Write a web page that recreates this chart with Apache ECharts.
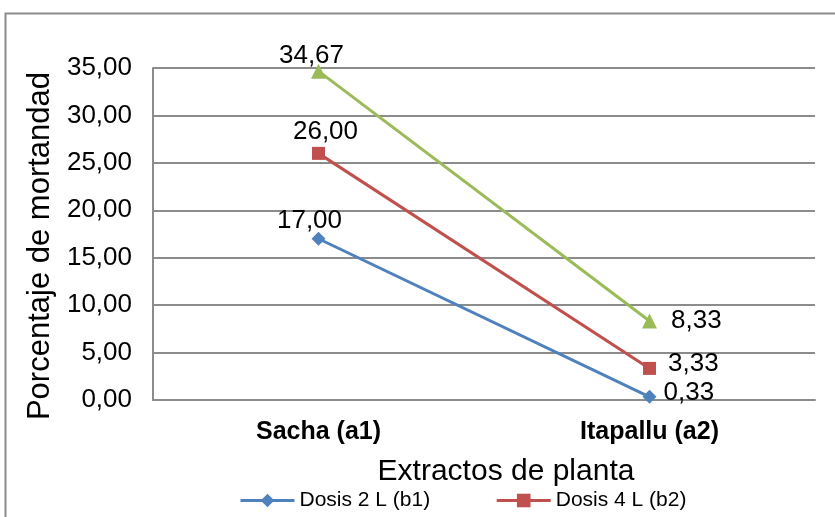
<!DOCTYPE html>
<html>
<head>
<meta charset="utf-8">
<script src="https://cdn.jsdelivr.net/npm/echarts@6/dist/echarts.min.js"></script>
<style>
html,body{margin:0;padding:0;background:#fff;}
#chart{width:835px;height:517px;}
</style>
</head>
<body>
<div id="chart"></div>
<script>
// Mortality percentage by plant extract and dose
const categories = ['Sacha (a1)', 'Itapallu (a2)'];
const dose2L = [17.00, 0.33];
const dose4L = [26.00, 3.33];
const dose6L = [34.67, 8.33];
const yTicks = { min: 0, max: 35, interval: 5 };

const fmt = v => v.toFixed(2).replace('.', ',');
const FONT = '"Liberation Sans", Arial, sans-serif';

function labelsFor(values, offsets) {
  return values.map((v, i) => ({
    value: v,
    label: {
      show: true,
      position: offsets[i].pos,
      offset: offsets[i].off,
      formatter: p => fmt(p.value),
      color: '#000',
      fontSize: 26,
      fontFamily: FONT
    }
  }));
}

const chart = echarts.init(document.getElementById('chart'), null, { renderer: 'canvas' });
chart.setOption({
  animation: false,
  backgroundColor: '#fff',
  graphic: [{
    type: 'rect',
    shape: { x: 5.5, y: 13.5, width: 900, height: 600 },
    style: { fill: 'none', stroke: '#8c8c8c', lineWidth: 2 },
    silent: true
  }],
  grid: { left: 153, right: 20, top: 68, bottom: 117 },
  legend: {
    data: ['Dosis 2 L (b1)', 'Dosis 4 L (b2)'],
    left: 234,
    top: 485,
    itemWidth: 54,
    itemHeight: 17,
    itemGap: 65,
    lineStyle: { width: 3 },
    textStyle: { fontFamily: FONT, fontSize: 21, color: '#000' }
  },
  xAxis: {
    type: 'category',
    data: categories,
    boundaryGap: true,
    name: 'Extractos de planta',
    nameLocation: 'middle',
    nameGap: 57,
    nameTextStyle: { fontFamily: FONT, fontSize: 30, color: '#000', padding: [0, 0, 0, 44] },
    axisLine: { lineStyle: { color: '#8c8c8c', width: 2 } },
    axisTick: { show: false },
    axisLabel: { margin: 20, fontFamily: FONT, fontSize: 25, fontWeight: 'bold', color: '#000' }
  },
  yAxis: {
    type: 'value',
    min: yTicks.min,
    max: yTicks.max,
    interval: yTicks.interval,
    name: 'Porcentaje de mortandad',
    nameLocation: 'middle',
    nameGap: 84,
    nameTextStyle: { fontFamily: FONT, fontSize: 31, color: '#000', padding: [0, 24, 0, 0] },
    axisLine: { show: true, lineStyle: { color: '#8c8c8c', width: 2 } },
    axisTick: { show: false },
    splitLine: { lineStyle: { color: '#8c8c8c', width: 2 } },
    axisLabel: { formatter: v => fmt(v), margin: 21, fontFamily: FONT, fontSize: 26, color: '#000' }
  },
  series: [
    {
      name: 'Dosis 2 L (b1)', type: 'line',
      data: labelsFor(dose2L, [{ pos: 'top', off: [-9, 7] }, { pos: 'right', off: [2, -4] }]),
      color: '#4F81BD', symbol: 'diamond', symbolSize: 14,
      lineStyle: { width: 3 }
    },
    {
      name: 'Dosis 4 L (b2)', type: 'line',
      data: labelsFor(dose4L, [{ pos: 'top', off: [7, 3] }, { pos: 'right', off: [7, -5] }]),
      color: '#C0504D', symbol: 'rect', symbolSize: 13,
      lineStyle: { width: 3 }
    },
    {
      name: 'Dosis 6 L (b3)', type: 'line',
      data: labelsFor(dose6L, [{ pos: 'top', off: [-7, 10] }, { pos: 'right', off: [9, 0] }]),
      color: '#9BBB59', symbol: 'triangle', symbolSize: 15,
      lineStyle: { width: 3 }
    }
  ]
});
</script>
</body>
</html>
